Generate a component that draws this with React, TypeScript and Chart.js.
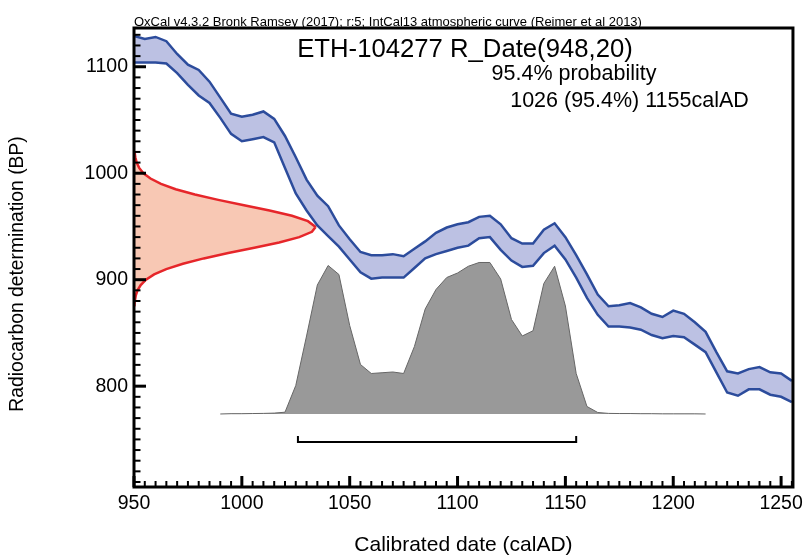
import React, { useEffect, useRef } from "react";
import { Chart, registerables } from "chart.js";

Chart.register(...registerables);

// ---- Calibration curve (IntCal13), calendar years AD and BP band ----
const calYears = [
  950, 955, 960, 965, 970, 975, 980, 985, 990, 995,
  1000, 1005, 1010, 1015, 1020, 1025, 1030, 1035, 1040, 1045,
  1050, 1055, 1060, 1065, 1070, 1075, 1080, 1085, 1090, 1095,
  1100, 1105, 1110, 1115, 1120, 1125, 1130, 1135, 1140, 1145,
  1150, 1155, 1160, 1165, 1170, 1175, 1180, 1185, 1190, 1195,
  1200, 1205, 1210, 1215, 1220, 1225, 1230, 1235, 1240, 1245,
  1250, 1255,
];
const upperBP = [
  1129, 1126, 1128, 1124, 1112, 1102, 1097, 1086, 1071, 1056,
  1053, 1055, 1058, 1051, 1035, 1015, 994, 979, 969, 951,
  938, 926, 923, 923, 924, 922, 929, 936, 944, 949,
  952, 954, 959, 960, 952, 939, 934, 934, 947, 953,
  940, 923, 905, 886, 875, 876, 878, 874, 868, 865,
  871, 868, 860, 851, 832, 814, 812, 816, 818, 813,
  812, 805,
];
const lowerBP = [
  1104, 1104, 1104, 1103, 1094, 1083, 1073, 1066, 1052, 1037,
  1030, 1032, 1034, 1029, 1005, 981, 965, 951, 941, 931,
  919, 907, 901, 902, 902, 902, 911, 920, 924, 927,
  930, 932, 939, 940, 928, 918, 912, 913, 925, 932,
  919, 902, 883, 867, 856, 856, 855, 853, 848, 845,
  847, 846, 839, 832, 813, 794, 791, 797, 797, 792,
  790, 785,
];

// ---- Radiocarbon date R_Date(948,20): BP and relative density ----
const dateBP = [
  1020, 1015, 1010, 1005, 1000, 995, 990, 985, 980, 975, 970, 965, 960, 955,
  950, 949, 945, 940, 935, 930, 925, 920, 915, 910, 905, 900, 895, 890, 885, 880, 875,
];
const dateDensity = [
  0.0033, 0.0072, 0.0147, 0.0286, 0.052, 0.091, 0.149, 0.23, 0.336, 0.465, 0.607, 0.748, 0.872, 0.96,
  0.999, 1.0, 0.982, 0.912, 0.801, 0.664, 0.52, 0.385, 0.27, 0.178, 0.111, 0.066, 0.037, 0.0193, 0.0096, 0.0045, 0.002,
];

// ---- Calibrated probability distribution ----
const postYears = [
  990, 995, 1000, 1005, 1010, 1015, 1020, 1025, 1030, 1035,
  1040, 1045, 1050, 1055, 1060, 1065, 1070, 1075, 1080, 1085,
  1090, 1095, 1100, 1105, 1110, 1115, 1120, 1125, 1130, 1135,
  1140, 1145, 1150, 1155, 1160, 1165, 1170, 1175, 1180, 1185,
  1190, 1195, 1200, 1205, 1210, 1215,
];
const postDensity = [
  0, 0.002, 0.002, 0.003, 0.004, 0.006, 0.012, 0.19, 0.52, 0.86,
  0.99, 0.93, 0.59, 0.33, 0.27, 0.275, 0.28, 0.27, 0.45, 0.7,
  0.83, 0.91, 0.94, 0.985, 1.01, 1.01, 0.9, 0.63, 0.52, 0.555,
  0.87, 0.985, 0.72, 0.27, 0.05, 0.01, 0.004, 0.003, 0.003, 0.002,
  0.002, 0.001, 0.001, 0.001, 0.001, 0,
];

// ---- 95.4% range ----
const rangeFrom = [1026];
const rangeTo = [1155];

// ---- Axes ----
const xTickValues = [950, 1000, 1050, 1100, 1150, 1200, 1250];
const yTickValues = [800, 900, 1000, 1100];

const headerText = "OxCal v4.3.2 Bronk Ramsey (2017); r:5; IntCal13 atmospheric curve (Reimer et al 2013)";
const titleText = "ETH-104277 R_Date(948,20)";
const probText = "95.4% probability";
const rangeText = "1026 (95.4%) 1155calAD";
const xTitle = "Calibrated date (calAD)";
const yTitle = "Radiocarbon determination (BP)";

const FONT = "'Liberation Sans', Arial, Helvetica, sans-serif";

const frameTicks = {
  id: "frameTicks",
  afterDatasetsDraw(chart: any) {
    const { ctx, chartArea: a, scales } = chart;
    const xs = scales.x;
    const ys = scales.y;
    ctx.save();
    ctx.strokeStyle = "#000";
    ctx.lineCap = "butt";
    for (let v = Math.ceil(ys.min / 10) * 10; v <= ys.max; v += 10) {
      const p = ys.getPixelForValue(v);
      const major = v % 100 === 0;
      ctx.lineWidth = major ? 3 : 2;
      ctx.beginPath();
      ctx.moveTo(a.left, p);
      ctx.lineTo(a.left + (major ? 12 : 6.5), p);
      ctx.stroke();
    }
    for (let v = Math.ceil(xs.min / 5) * 5; v <= xs.max; v += 5) {
      const p = xs.getPixelForValue(v);
      const major = v % 50 === 0;
      ctx.lineWidth = major ? 3 : 2;
      ctx.beginPath();
      ctx.moveTo(p, a.bottom);
      ctx.lineTo(p, a.bottom - (major ? 11 : 6));
      ctx.stroke();
    }
    ctx.lineWidth = 3;
    ctx.strokeRect(a.left, a.top, a.right - a.left, a.bottom - a.top);
    ctx.restore();
  },
  afterDraw(chart: any) {
    const { ctx } = chart;
    ctx.save();
    ctx.fillStyle = "#000";
    ctx.textBaseline = "alphabetic";
    ctx.textAlign = "left";
    ctx.font = `13px ${FONT}`;
    ctx.fillText(headerText, 134, 25.5, 508);
    ctx.textAlign = "center";
    ctx.font = `25.7px ${FONT}`;
    ctx.fillText(titleText, 465, 56.5);
    ctx.font = `21.5px ${FONT}`;
    ctx.fillText(probText, 574, 80);
    ctx.fillText(rangeText, 629.5, 106.5);
    // vertical axis title
    ctx.translate(18, 274);
    ctx.rotate(-Math.PI / 2);
    ctx.textBaseline = "middle";
    ctx.font = `19.3px ${FONT}`;
    ctx.fillText(yTitle, 0, 0);
    ctx.restore();
  },
};

export default function App() {
  const ref = useRef<HTMLCanvasElement>(null);

  useEffect(() => {
    document.body.style.margin = "0";
    const bracketLow = -0.187;
    const bracketHigh = -0.147;

    const chart = new Chart(ref.current as HTMLCanvasElement, {
      type: "line",
      data: {
        datasets: [
          {
            label: "range",
            data: [
              { x: rangeFrom[0], y: bracketHigh },
              { x: rangeFrom[0], y: bracketLow },
              { x: rangeTo[0], y: bracketLow },
              { x: rangeTo[0], y: bracketHigh },
            ],
            xAxisID: "x",
            yAxisID: "y2",
            borderColor: "#000",
            borderWidth: 2,
            fill: false,
            pointRadius: 0,
          },
          {
            label: "lower",
            data: calYears.map((x, i) => ({ x, y: lowerBP[i] })),
            xAxisID: "x",
            yAxisID: "y",
            borderColor: "#2c4c9c",
            borderWidth: 2.5,
            fill: false,
            pointRadius: 0,
          },
          {
            label: "upper",
            data: calYears.map((x, i) => ({ x, y: upperBP[i] })),
            xAxisID: "x",
            yAxisID: "y",
            borderColor: "#2c4c9c",
            backgroundColor: "#bcc1e3",
            borderWidth: 2.5,
            fill: "-1",
            pointRadius: 0,
          },
          {
            label: "rdate",
            data: dateBP.map((y, i) => ({ x: dateDensity[i], y })),
            indexAxis: "y",
            xAxisID: "x2",
            yAxisID: "y",
            borderColor: "#e6262a",
            backgroundColor: "#f8c8b4",
            borderWidth: 2.5,
            fill: "origin",
            pointRadius: 0,
          } as any,
          {
            label: "posterior",
            data: postYears.map((x, i) => ({ x, y: postDensity[i] })),
            xAxisID: "x",
            yAxisID: "y2",
            borderColor: "#666",
            backgroundColor: "#999999",
            borderWidth: 1,
            fill: "origin",
            pointRadius: 0,
          },
        ],
      },
      options: {
        animation: false,
        responsive: false,
        devicePixelRatio: 1,
        layout: { padding: { top: 28, right: 12, left: 0, bottom: 0 } },
        elements: { point: { radius: 0 }, line: { tension: 0 } },
        plugins: {
          legend: { display: false },
          tooltip: { enabled: false },
          title: { display: false },
        },
        scales: {
          x: {
            type: "linear",
            position: "bottom",
            min: 950,
            max: 1255.5,
            afterFit: (s: any) => {
              s.height = 69;
            },
            afterBuildTicks: (s: any) => {
              s.ticks = xTickValues.map((v) => ({ value: v }));
            },
            ticks: {
              font: { family: FONT, size: 19.5 },
              color: "#000",
              padding: 5,
              maxRotation: 0,
              autoSkip: false,
              callback: (v: any) => String(v),
            },
            grid: { display: false, drawTicks: false },
            border: { display: false },
            title: {
              display: true,
              text: xTitle,
              color: "#000",
              font: { family: FONT, size: 21, lineHeight: 1 },
              padding: { top: 0, bottom: 0 },
            },
          },
          y: {
            type: "linear",
            position: "left",
            min: 705.3,
            max: 1136.4,
            afterFit: (s: any) => {
              s.width = 134;
            },
            afterBuildTicks: (s: any) => {
              s.ticks = yTickValues.map((v) => ({ value: v }));
            },
            ticks: {
              font: { family: FONT, size: 19.5 },
              color: "#000",
              padding: 6,
              callback: (v: any) => String(v),
            },
            grid: { display: false, drawTicks: false },
            border: { display: false },
            title: { display: false },
          },
          x2: {
            type: "linear",
            axis: "x",
            display: false,
            min: 0,
            max: 3.637,
          },
          y2: {
            type: "linear",
            axis: "y",
            display: false,
            min: -0.4867,
            max: 2.5733,
          },
        },
      } as any,
      plugins: [frameTicks],
    });
    return () => chart.destroy();
  }, []);

  return (
    <div style={{ width: 808, height: 556 }}>
      <canvas ref={ref} width={808} height={556} style={{ display: "block" }} />
    </div>
  );
}
